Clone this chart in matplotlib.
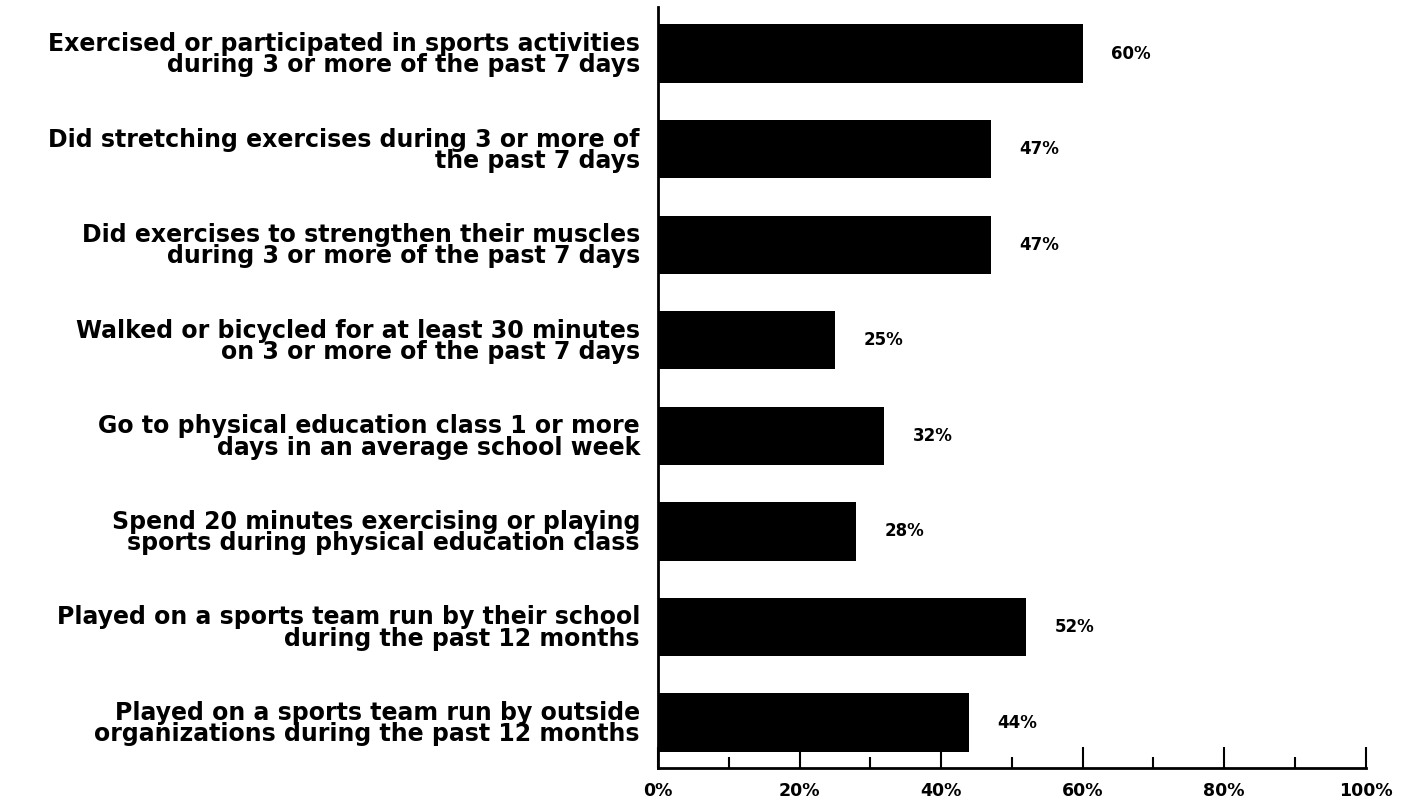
import matplotlib.pyplot as plt
import numpy as np

# category labels and values (percent)
labels = [
    'Exercised or participated in sports activities\nduring 3 or more of the past 7 days',
    'Did stretching exercises during 3 or more of\nthe past 7 days',
    'Did exercises to strengthen their muscles\nduring 3 or more of the past 7 days',
    'Walked or bicycled for at least 30 minutes\non 3 or more of the past 7 days',
    'Go to physical education class 1 or more\ndays in an average school week',
    'Spend 20 minutes exercising or playing\nsports during physical education class',
    'Played on a sports team run by their school\nduring the past 12 months',
    'Played on a sports team run by outside\norganizations during the past 12 months',
]
values = [60, 47, 47, 25, 32, 28, 52, 44]
xticks = [0, 20, 40, 60, 80, 100]
xminor = [10, 30, 50, 70, 90]

plt.rcParams['font.family'] = ['DejaVu Sans']
plt.rcParams['font.weight'] = 'bold'

fig = plt.figure(figsize=(14.08, 8), dpi=100)
ax = fig.add_axes([0.4673, 0.04, 0.5027, 0.951])

y = np.arange(len(values))
ax.barh(y, values, height=0.61, color='black')

for yi, v in zip(y, values):
    ax.text(v + 4, yi, '%d%%' % v, va='center', ha='left', fontsize=12, fontweight='bold')

ax.set_xlim(0, 100)
ax.set_ylim(7.476, -0.486)
ax.set_yticks(y)
ax.set_yticklabels(labels, fontsize=17, fontweight='bold', linespacing=0.85)
ax.tick_params(axis='y', length=0, pad=13)

ax.set_xticks(xticks)
ax.set_xticklabels(['%d%%' % t for t in xticks], fontsize=12.5, fontweight='bold')
ax.set_xticks(xminor, minor=True)
ax.tick_params(axis='x', which='major', direction='in', length=15, width=1.5, pad=10)
ax.tick_params(axis='x', which='minor', direction='in', length=8, width=1.5)

ax.spines['top'].set_visible(False)
ax.spines['right'].set_visible(False)
ax.spines['left'].set_linewidth(2)
ax.spines['bottom'].set_linewidth(2)

fig.savefig('out.png', dpi=100)
